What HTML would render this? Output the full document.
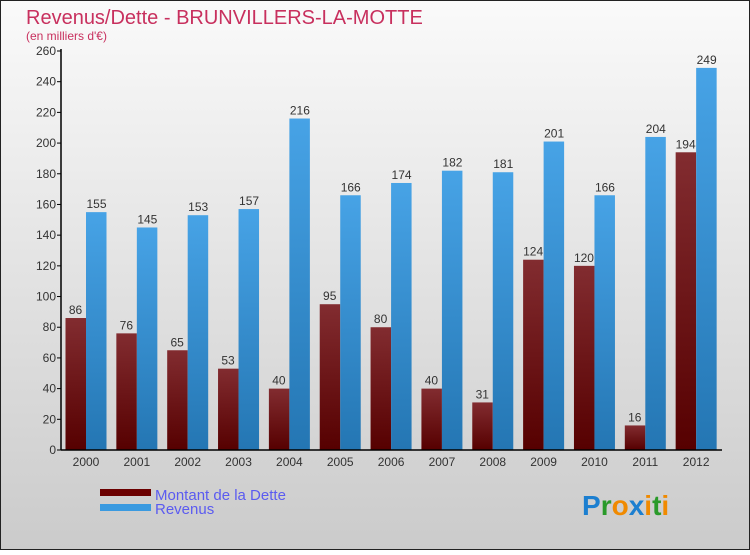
<!DOCTYPE html>
<html><head><meta charset="utf-8"><style>
body{margin:0;width:750px;height:550px;overflow:hidden}
svg text{font-family:"Liberation Sans",sans-serif}
</style></head><body>
<svg width="750" height="550" xmlns="http://www.w3.org/2000/svg">
<defs>
<linearGradient id="bg" x1="0" y1="0" x2="0" y2="1"><stop offset="0" stop-color="#fafafa"/><stop offset="1" stop-color="#cbcbcb"/></linearGradient>
<linearGradient id="gd" x1="0" y1="0" x2="0" y2="1"><stop offset="0" stop-color="#822c30"/><stop offset="1" stop-color="#560000"/></linearGradient>
<linearGradient id="gr" x1="0" y1="0" x2="0" y2="1"><stop offset="0" stop-color="#47a3e6"/><stop offset="1" stop-color="#2476b3"/></linearGradient>
</defs>
<rect x="0.5" y="0.5" width="749" height="549" fill="url(#bg)" stroke="#222"/>
<text x="26" y="24" font-size="20" fill="#c8305e">Revenus/Dette - BRUNVILLERS-LA-MOTTE</text>
<text x="26" y="40" font-size="12" fill="#c8305e">(en milliers d'€)</text>
<g id="plot"></g>
<rect x="100" y="489" width="51" height="7" fill="#6b0000"/>
<rect x="100" y="504" width="51" height="7" fill="#3a9ae0"/>
<text x="155" y="500" font-size="15" fill="#5b5bf0">Montant de la Dette</text>
<text x="155" y="514" font-size="15" fill="#5b5bf0">Revenus</text>
<g font-size="28" font-weight="bold">
<text x="582" y="515"><tspan fill="#1c7fd0">P</tspan><tspan fill="#2a9a2a">r</tspan><tspan fill="#f08a00">o</tspan><tspan fill="#1c7fd0">x</tspan><tspan fill="#f08a00">i</tspan><tspan fill="#2a9a2a">t</tspan><tspan fill="#f08a00">i</tspan></text>
</g>
</svg>
<script>
const years=["2000","2001","2002","2003","2004","2005","2006","2007","2008","2009","2010","2011","2012"];
const dette=[86,76,65,53,40,95,80,40,31,124,120,16,194];
const revenus=[155,145,153,157,216,166,174,182,181,201,166,204,249];
const yTicks=[0,20,40,60,80,100,120,140,160,180,200,220,240,260];
const NS="http://www.w3.org/2000/svg";
const g=document.getElementById('plot');
const x0=61,x1=722,y0=450,yTop=51,yMax=260;
const step=(x1-x0)/years.length;
const y=v=>y0-v/yMax*(y0-yTop);
function mk(t,a,txt){const e=document.createElementNS(NS,t);for(const k in a)e.setAttribute(k,a[k]);if(txt!==undefined)e.textContent=txt;g.appendChild(e);return e;}
yTicks.forEach(t=>{
 const l=mk('line',{x1:x0-4,x2:x0,y1:y(t),y2:y(t),stroke:'#000'});
 
 
 const tx=mk('text',{x:x0-5,y:y(t)+4,'font-size':12,'text-anchor':'end',fill:'#333'},t);
 
 
});
years.forEach((yr,i)=>{
 const bx=x0+i*step+4.5;
 const b1=mk('rect',{x:bx,y:y(dette[i]),width:20.5,height:y0-y(dette[i]),fill:'url(#gd)'});
 
 
 const b2=mk('rect',{x:bx+20.5,y:y(revenus[i]),width:20.5,height:y0-y(revenus[i]),fill:'url(#gr)'});
 
 
 const t1=mk('text',{x:bx+10,y:y(dette[i])-4,'font-size':12,'text-anchor':'middle',fill:'#333'},dette[i]);
 
 
 const t2=mk('text',{x:bx+31,y:y(revenus[i])-4,'font-size':12,'text-anchor':'middle',fill:'#333'},revenus[i]);
 
 
 const xl=mk('text',{x:bx+20.5,y:y0+16,'font-size':12,'text-anchor':'middle',fill:'#333'},yr);
 
 
});
const ya=mk('line',{x1:x0,x2:x0,y1:yTop-2,y2:y0,stroke:'#000','stroke-width':1.5});


const xa=mk('line',{x1:x0,x2:x1,y1:y0,y2:y0,stroke:'#000','stroke-width':1.5});


</script>
</body></html>
